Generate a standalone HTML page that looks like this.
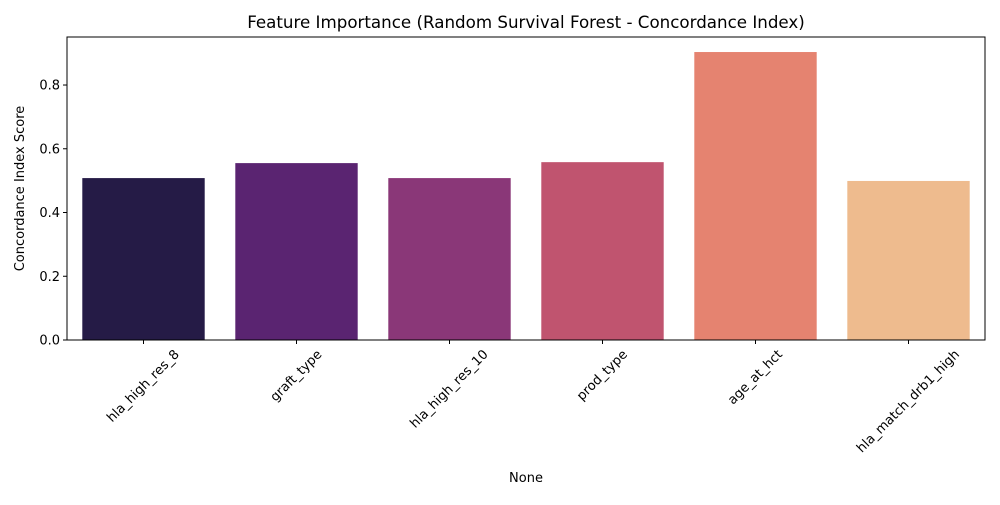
<!DOCTYPE html>
<html><head><meta charset="utf-8"><style>
body{margin:0;background:#fff}
svg{font-family:"DejaVu Sans","Liberation Sans",sans-serif}
</style></head><body>
<svg id="c" width="1000" height="500">
<text x="526" y="28" font-size="16.7" text-anchor="middle">Feature Importance (Random Survival Forest - Concordance Index)</text>
<g id="bars"></g>
<rect x="67" y="37" width="918" height="303" fill="none" stroke="#000" stroke-width="1"/>
<g id="yt"></g><g id="xt"></g>
<text transform="translate(24,188.5) rotate(-90)" font-size="13" text-anchor="middle">Concordance Index Score</text>
<text x="526" y="482" font-size="13" text-anchor="middle">None</text>
</svg>
<script>
const categories=["hla_high_res_8","graft_type","hla_high_res_10","prod_type","age_at_hct","hla_match_drb1_high"];
const values=[0.508,0.555,0.508,0.558,0.9035,0.499];
const colors=["#251b46","#5a2471","#8a3778","#c0546f","#e58370","#eebb8e"];
const yTicks=[0,0.2,0.4,0.6,0.8];
const yTickLabels=["0.0","0.2","0.4","0.6","0.8"];
const NS="http://www.w3.org/2000/svg";
const L=67,R=985,T=37,B=340;
const yMax=Math.max(...values)*1.0522;
const y=v=>B-(v/yMax)*(B-T);
const slot=(R-L)/categories.length;
const xc=i=>L+slot*(i+0.5);
function mk(tag,a,p){const e=document.createElementNS(NS,tag);for(const k in a)e.setAttribute(k,a[k]);p.appendChild(e);return e;}
const bars=document.getElementById('bars'),yt=document.getElementById('yt'),xt=document.getElementById('xt');
values.forEach((v,i)=>{
 const w=slot*0.8;
 const r=mk('rect',{x:xc(i)-w/2,y:y(v),width:w,height:B-y(v),fill:colors[i]},bars);
 
 
});
yTicks.forEach((t,i)=>{
 const l=mk('line',{x1:L-4,x2:L,y1:y(t),y2:y(t),stroke:'#000'},yt);
 
 
 const tx=mk('text',{x:L-7,y:y(t)+4.5,'font-size':13,'text-anchor':'end'},yt);
 tx.textContent=yTickLabels[i];
 
 
});
categories.forEach((c,i)=>{
 const x=xc(i);
 const l=mk('line',{x1:x,x2:x,y1:B,y2:B+4,stroke:'#000'},xt);
 
 
 const tx=mk('text',{x:0,y:0,'font-size':13,'text-anchor':'middle','dominant-baseline':'central'},xt);
 tx.textContent=c;
 
 
 const len=tx.getComputedTextLength();
 const hh=(len+13)*0.7071;
 tx.setAttribute('transform',`translate(${x},${B+8+hh/2}) rotate(-45)`);
});
</script>
</body></html>
